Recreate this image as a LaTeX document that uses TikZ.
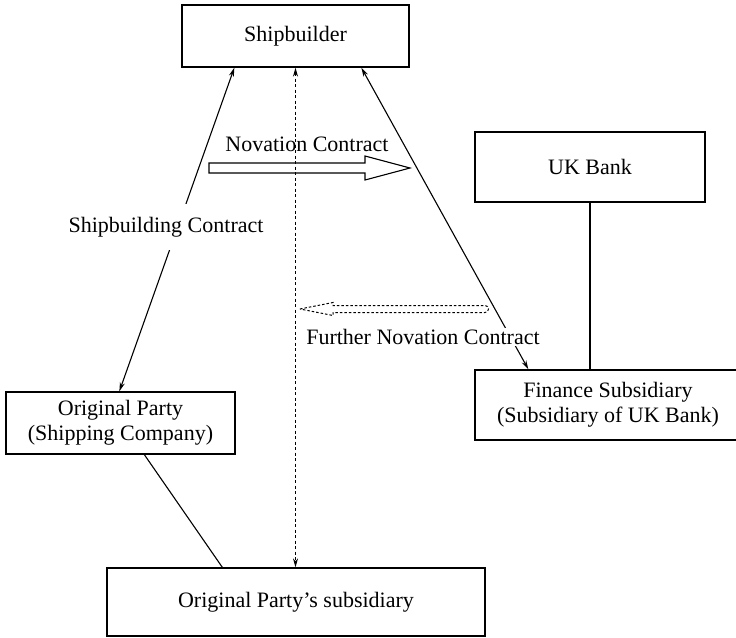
\documentclass[tikz,border=0pt]{standalone}
\usepackage{fontspec}
\setmainfont{Liberation Serif}
\usetikzlibrary{arrows.meta}
\begin{document}
\begin{tikzpicture}[x=1pt,y=-1pt,
  box/.style={draw,line width=1.3pt,rectangle,inner sep=0pt,align=center,
    font=\fontsize{22}{25}\selectfont},
  lbl/.style={inner sep=0pt,font=\fontsize{22}{25}\selectfont},
  conn/.style={line width=1.1pt},
  dtip/.style={{Stealth[length=9pt,width=5pt]}-{Stealth[length=9pt,width=5pt]}},
  dashline/.style={dash pattern=on 3pt off 2.5pt}
]
\clip (0,0) rectangle (736,637);
% boxes
\node[box,minimum width=227pt,minimum height=62pt] (ship) at (295.5,36) {Shipbuilder};
\node[box,minimum width=230pt,minimum height=70pt] (uk) at (590,167) {UK Bank};
\node[box,minimum width=266pt,minimum height=70pt] (fin) at (608,405) {Finance Subsidiary\\(Subsidiary of UK Bank)};
\node[box,minimum width=229pt,minimum height=62pt] (orig) at (120.5,423) {Original Party\\(Shipping Company)};
\node[box,minimum width=378pt,minimum height=68pt] (sub) at (296,602) {Original Party's subsidiary};

% solid connectors
\draw[conn,dtip] ([xshift=53pt]ship.south west) -- ([xshift=114pt]orig.north west);
\node[lbl,fill=white,inner xsep=2pt,inner ysep=13pt] (sbc) at (166,227) {Shipbuilding Contract};
\draw[conn,dtip] ([xshift=180pt]ship.south west) -- ([xshift=54pt]fin.north west);
\node[lbl,fill=white,inner xsep=2pt,inner ysep=1.5pt] (fnc) at (423,337) {Further Novation Contract};
\draw[conn] (uk.south) -- (uk.south |- fin.north);
\draw[conn] ([xshift=139pt]orig.south west) -- ([xshift=116pt]sub.north west);

% novation hollow arrow
\node[lbl] (nc) at (307,144) {Novation Contract};
\coordinate (nt) at (209,168);
\draw[line width=1.1pt,fill=white] (nt) ++(0,-5) -- ++(156,0) -- ++(0,-7) -- ++(45,12)
  -- ++(-45,12) -- ++(0,-7) -- ++(-156,0) -- cycle;

% further novation dashed hollow arrow
\coordinate (ft) at (300,309);
\draw[line width=1pt,dash pattern=on 2.5pt off 2pt] (ft) -- ++(33,-6.5) -- ++(0,3) -- ++(152,0)
  arc[start angle=90,end angle=-90,radius=3.5pt] -- ++(-152,0) -- ++(0,3) -- cycle;

% dashed vertical
\draw[conn,dashline,dtip] (ship.south) -- (ship.south |- sub.north);
\end{tikzpicture}
\end{document}
